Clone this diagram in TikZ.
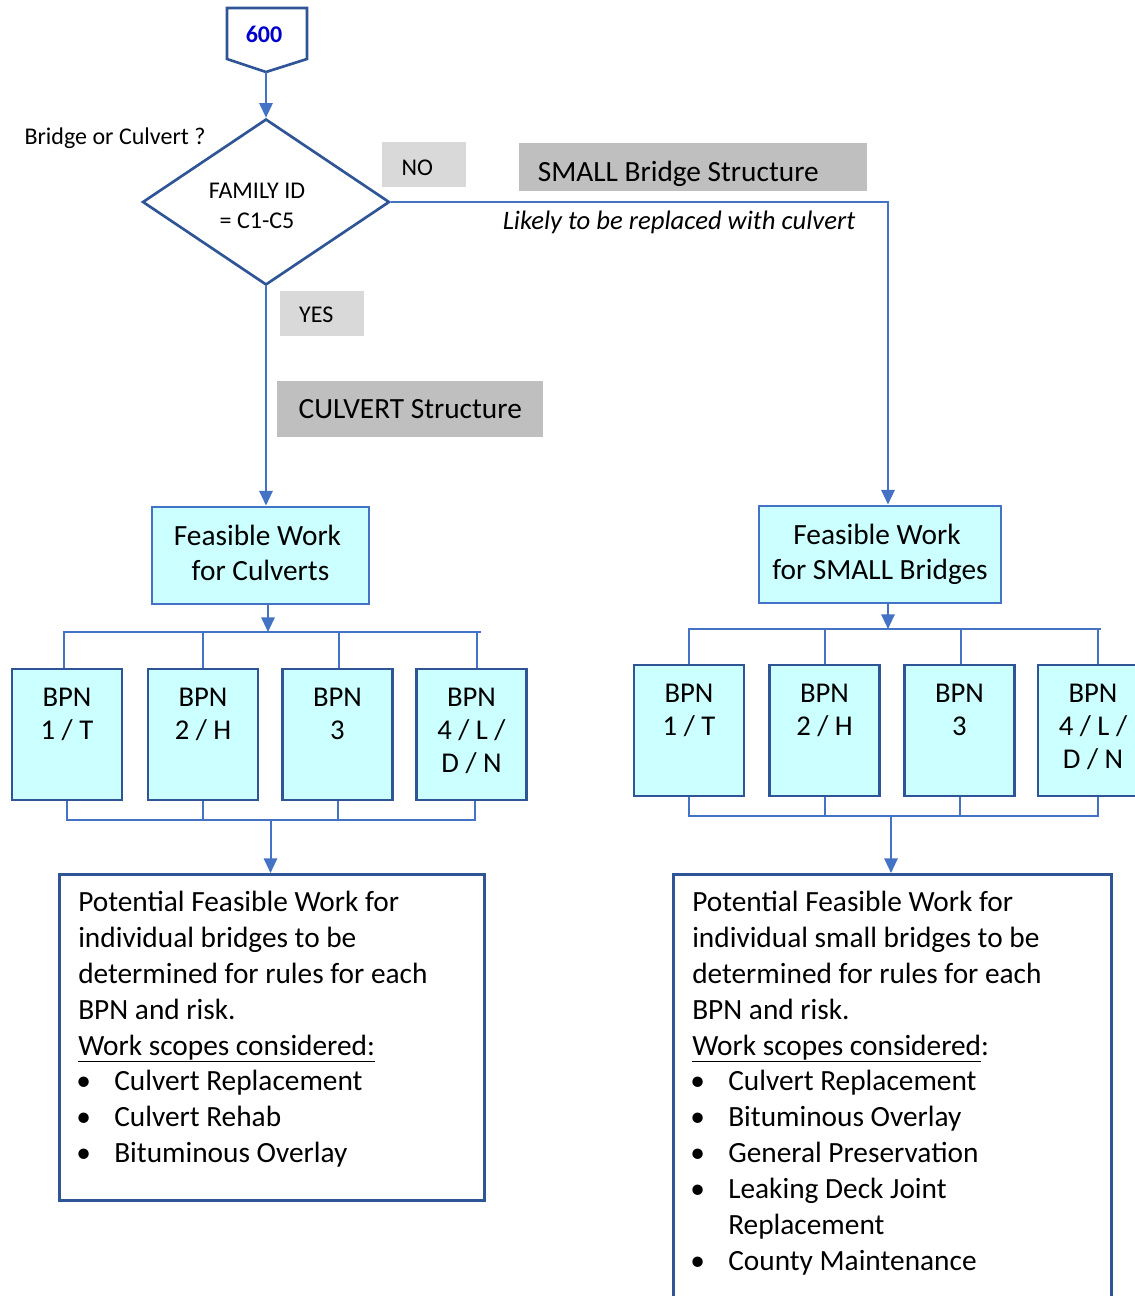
\documentclass[tikz,border=0pt]{standalone}
\usepackage{fontspec}
\setmainfont{Carlito}
\usetikzlibrary{shapes.geometric,arrows.meta}

\newdimen\pxu \pxu=0.75pt
\definecolor{lineblue}{HTML}{4472C4}
\definecolor{darkblue}{HTML}{2F5597}
\definecolor{cyanfill}{HTML}{CCFFFF}
\definecolor{lightgraybox}{HTML}{D9D9D9}
\definecolor{midgraybox}{HTML}{BFBFBF}
\definecolor{numblue}{HTML}{0000CC}
% bullet item, continuation indent, label offsets
\newcommand\itm{\makebox[27pt][l]{\kern-2\pxu\textbullet}}
\newcommand\lowered[2]{\raisebox{-#1\pxu}[\height][\depth]{#2}}
\newcommand\lastdp{\rule[-6pt]{0pt}{6pt}}

\begin{document}
\begin{tikzpicture}[x=0.75pt,y=-0.75pt,
  conn/.style={draw=lineblue,line width=1.5pt},
  arr/.style={conn,-{Triangle[length=11pt,width=10pt]}},
  graylbl/.style={fill=lightgraybox,inner sep=0,font=\fontsize{18}{22}\selectfont},
  graytitle/.style={fill=midgraybox,inner sep=0,font=\fontsize{22}{26}\selectfont},
  workbox/.style={draw=lineblue,line width=2.2pt,fill=cyanfill,align=center,inner sep=0,
    minimum height=97\pxu,font=\fontsize{22}{26.25}\selectfont},
  bpnbox/.style={draw=darkblue,line width=2.2pt,fill=cyanfill,align=center,inner sep=0,
    minimum width=110\pxu,minimum height=131\pxu,font=\fontsize{21.5}{24.75}\selectfont},
  outbox/.style={draw=darkblue,line width=2pt,inner sep=0,anchor=north west},
  body/.style={align=left,inner sep=0,anchor=north west,font=\fontsize{22}{26.9}\selectfont},
  small/.style={inner sep=0,font=\fontsize{18}{22.5}\selectfont,align=center}
]
\clip (0,0) rectangle (1135,1296);
\fill[white] (0,0) rectangle (1135,1296);

% off-page connector 600
\draw[darkblue,line width=2pt,line join=miter] (227,8) -- (307,8) -- (307,59) -- (266,72) -- (227,59) -- cycle;
\node[small,font=\fontsize{18}{22}\selectfont\bfseries,text=numblue] (p600) at (264,34) {600};
\coordinate (p600tip) at (266,72);

% decision
\node[diamond,draw=darkblue,line width=2pt,minimum width=247\pxu,minimum height=166\pxu,inner sep=0] (q) at (266,202) {};
\node[small] (famtxt) at (257,206) {FAMILY ID\\= C1-C5};
\node[small] (brq) at (115,138) {Bridge or Culvert ?};

\draw[arr] (p600tip) -- (q.north);

% branch labels
\node[graylbl,minimum width=84\pxu,minimum height=45\pxu,anchor=north west] (no) at (382,142) {\lowered{3}{NO}\rule{14\pxu}{0pt}};
\node[graytitle,minimum width=348\pxu,minimum height=48\pxu,anchor=north west] (smallt) at (519,143) {\lowered{7}{SMALL Bridge Structure}\rule{30\pxu}{0pt}};
\node[inner sep=0,font=\fontsize{20}{24}\selectfont\itshape] (likely) at (679,222) {Likely to be replaced with culvert};
\node[graylbl,minimum width=84\pxu,minimum height=45\pxu,anchor=north west] (yes) at (280,291) {\lowered{1.5}{YES}\rule{12\pxu}{0pt}};
\node[graytitle,minimum width=266\pxu,minimum height=56\pxu,anchor=north west] (culvt) at (277,381) {CULVERT Structure};

% feasible work boxes
\node[workbox,minimum width=217\pxu] (fwc) at (260.5,555.5) {Feasible Work\rule{6\pxu}{0pt}\\ for Culverts\rule[-5\pxu]{0pt}{5\pxu}};
\node[workbox,minimum width=242\pxu] (fws) at (880,554.5) {Feasible Work\rule{6\pxu}{0pt}\\for SMALL Bridges};

\coordinate (nocorner) at (888,202);
\draw[arr] (q.east) -- (nocorner) -- (nocorner |- fws.north);
\draw[arr] (q.south) -- (q.south |- fwc.north);

% BPN boxes, culverts
\node[bpnbox] (lb1) at (67,734.5) {BPN\\1 / T\\\vphantom{/}\lastdp};
\node[bpnbox] (lb2) at (203,734.5) {BPN\\2 / H\\\vphantom{/}\lastdp};
\node[bpnbox] (lb3) at (337.5,734.5) {BPN\\3\\\vphantom{/}\lastdp};
\node[bpnbox] (lb4) at (471.5,734.5) {BPN\\4 / L /\\D / N\lastdp};

% BPN boxes, small bridges
\node[bpnbox] (rb1) at (689,730.5) {BPN\\1 / T\\\vphantom{/}\lastdp};
\node[bpnbox] (rb2) at (824.5,730.5) {BPN\\2 / H\\\vphantom{/}\lastdp};
\node[bpnbox] (rb3) at (959.5,730.5) {BPN\\3\\\vphantom{/}\lastdp};
\node[bpnbox] (rb4) at (1093,730.5) {BPN\\4 / L /\\D / N\lastdp};

% result boxes
\node[outbox,minimum width=425\pxu,minimum height=326\pxu] (potL) at (58,873) {};
\node[outbox,minimum width=438\pxu,minimum height=450\pxu] (potR) at (672,873) {};

\node[body] (potLtxt) at (78,891) {Potential Feasible Work for\\
individual bridges to be\\
determined for rules for each\\
BPN and risk.\\
\underline{Work scopes considered:}\\
\itm Culvert Replacement\\
\itm Culvert Rehab\\
\itm Bituminous Overlay};

\node[body] (potRtxt) at (692,891) {Potential Feasible Work for\\
individual small bridges to be\\
determined for rules for each\\
BPN and risk.\\
\underline{Work scopes considered}:\\
\itm Culvert Replacement\\
\itm Bituminous Overlay\\
\itm General Preservation\\
\itm Leaking Deck Joint\\
\hspace*{27pt}Replacement\\
\itm County Maintenance};

% distribution buses, culverts
\coordinate (ltop) at (268,632);
\coordinate (lbot) at (270.5,820);
\coordinate (ltopend) at ([xshift=9\pxu]lb4.north |- ltop);
\draw[arr] (ltop |- fwc.south) -- (ltop);
\draw[conn] ([xshift=-3\pxu]lb1.north) -- ([xshift=-3\pxu]lb1.north |- ltop) -- (ltopend);
\draw[conn] (lb2.north) -- (lb2.north |- ltop);
\draw[conn] ([xshift=1.5\pxu]lb3.north) -- ([xshift=1.5\pxu]lb3.north |- ltop);
\draw[conn] ([xshift=5.5\pxu]lb4.north) -- ([xshift=5.5\pxu]lb4.north |- ltop);
\draw[conn] (lb1.south) -- (lb1.south |- lbot) -- ([xshift=3.5\pxu]lb4.south |- lbot) -- ([xshift=3.5\pxu]lb4.south);
\draw[conn] (lb2.south) -- (lb2.south |- lbot);
\draw[conn] (lb3.south) -- (lb3.south |- lbot);
\draw[arr] (lbot) -- (lbot |- potL.north);

% distribution buses, small bridges
\coordinate (rtop) at (888,629);
\coordinate (rbot) at (891,816);
\coordinate (rtopend) at ([xshift=8\pxu]rb4.north |- rtop);
\draw[arr] (rtop |- fws.south) -- (rtop);
\draw[conn] (rb1.north) -- (rb1.north |- rtop) -- (rtopend);
\draw[conn] (rb2.north) -- (rb2.north |- rtop);
\draw[conn] ([xshift=1.5\pxu]rb3.north) -- ([xshift=1.5\pxu]rb3.north |- rtop);
\draw[conn] ([xshift=5\pxu]rb4.north) -- ([xshift=5\pxu]rb4.north |- rtop);
\draw[conn] (rb1.south) -- (rb1.south |- rbot) -- ([xshift=5\pxu]rb4.south |- rbot) -- ([xshift=5\pxu]rb4.south);
\draw[conn] (rb2.south) -- (rb2.south |- rbot);
\draw[conn] (rb3.south) -- (rb3.south |- rbot);
\draw[arr] (rbot) -- (rbot |- potR.north);
\end{tikzpicture}
\end{document}
